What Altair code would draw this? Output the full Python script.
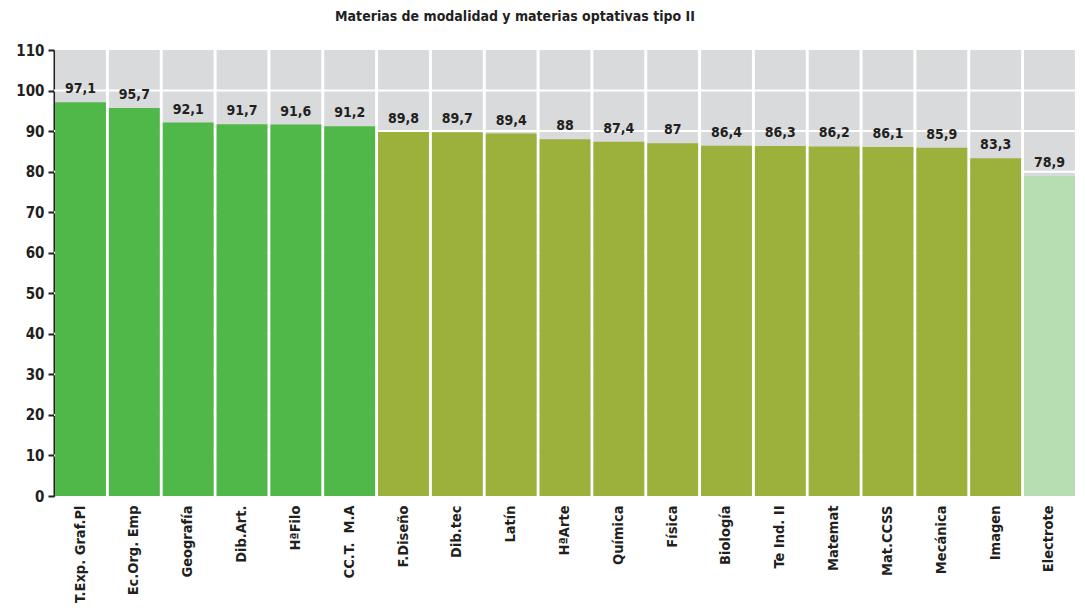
import altair as alt
import pandas as pd

materias = ["T.Exp. Graf.Pl", "Ec.Org. Emp", "Geografía", "Dib.Art.", "HªFilo", "CC.T.\u00a0\u00a0M.A",
            "F.Diseño", "Dib.tec", "Latín", "HªArte", "Química", "Física", "Biología",
            "Te Ind. II", "Matemat", "Mat.CCSS", "Mecánica", "Imagen", "Electrote"]
valores = [97.1, 95.7, 92.1, 91.7, 91.6, 91.2, 89.8, 89.7, 89.4, 88, 87.4, 87, 86.4,
           86.3, 86.2, 86.1, 85.9, 83.3, 78.9]
grupos = ["A"] * 6 + ["B"] * 12 + ["C"]
y_ticks = [0, 10, 20, 30, 40, 50, 60, 70, 80, 90, 100, 110]
grid_vals = [10, 20, 30, 40, 50, 60, 70, 80, 90, 100]
y_max = 110

FONT = "DejaVu Sans Condensed, Liberation Sans Narrow, DejaVu Sans, sans-serif"
DARK = "#231f20"
W, H = 1022, 446

df = pd.DataFrame({
    "materia": materias,
    "valor": valores,
    "grupo": grupos,
    "etiqueta": [f"{v:g}".replace(".", ",") for v in valores],
    "tope": [y_max] * len(materias),
})
grid_df = pd.DataFrame({"g": grid_vals})

x_enc = alt.X("materia:N", sort=materias,
              scale=alt.Scale(paddingInner=0.055, paddingOuter=0.02),
              axis=alt.Axis(title=None, labelAngle=-90, domain=False, ticks=False,
                            labelPadding=9, labelFontSize=14.5, labelFontWeight="bold",
                            labelColor=DARK, labelFont=FONT))
y_scale = alt.Scale(domain=[0, y_max], nice=False)

base = alt.Chart(df)

bg = base.mark_bar(color="#d9dadc").encode(
    x=x_enc,
    y=alt.Y("tope:Q", scale=y_scale,
            axis=alt.Axis(title=None, values=y_ticks, grid=False, domainColor=DARK,
                          domainWidth=2, tickColor=DARK, tickWidth=2, tickSize=6,
                          labelFontSize=15, labelFontWeight="bold", labelColor=DARK,
                          labelFont=FONT, labelPadding=4)),
)

grid = alt.Chart(grid_df).mark_rule(color="white", strokeWidth=2).encode(
    y=alt.Y("g:Q", scale=y_scale),
    x=alt.value(0), x2=alt.value(W),
)

bars = base.mark_bar().encode(
    x=alt.X("materia:N", sort=materias),
    y=alt.Y("valor:Q", scale=y_scale),
    color=alt.Color("grupo:N",
                    scale=alt.Scale(domain=["A", "B", "C"],
                                    range=["#50b848", "#9cb13b", "#b7ddb2"]),
                    legend=None),
)

labels = base.mark_text(baseline="bottom", dy=-6, fontSize=14, fontWeight="bold",
                        color=DARK, font=FONT).encode(
    x=alt.X("materia:N", sort=materias),
    y=alt.Y("valor:Q", scale=y_scale),
    text="etiqueta:N",
)

chart = alt.layer(bg, grid, bars, labels).properties(
    width=W, height=H,
    title=alt.TitleParams("Materias de modalidad y materias optativas tipo II",
                          fontSize=14, fontWeight="bold", color=DARK, font=FONT,
                          anchor="middle", offset=19, dx=-50),
    padding={"left": 7, "top": 2, "right": 0, "bottom": 0},
    background="white",
).configure_view(stroke=None)

chart.save("out.html", embed_options={"renderer": "svg", "actions": False})
